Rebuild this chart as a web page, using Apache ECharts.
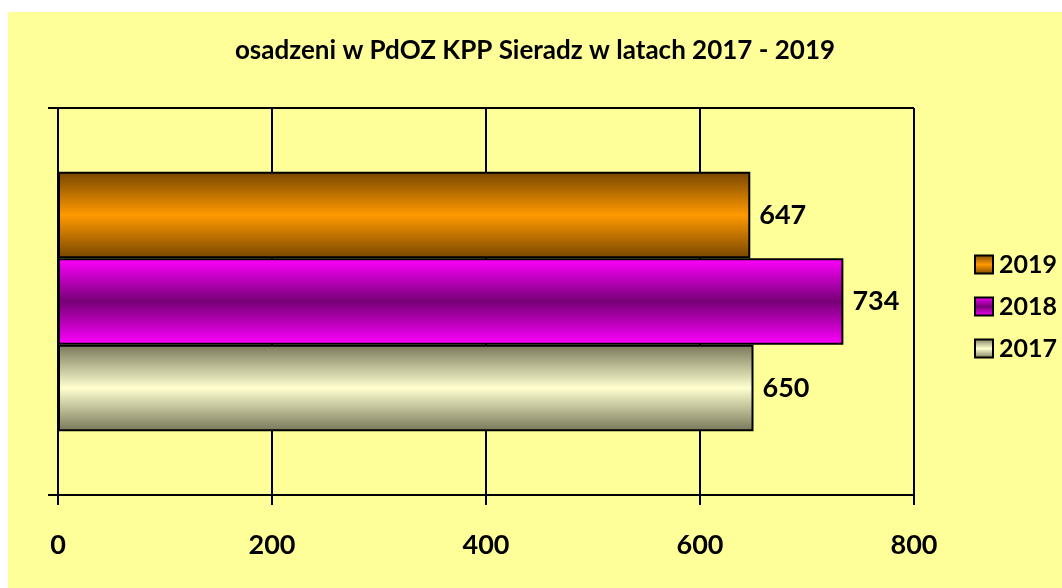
<!DOCTYPE html>
<html>
<head>
<meta charset="utf-8">
<script src="https://cdn.jsdelivr.net/npm/echarts@6/dist/echarts.min.js"></script>
<style>
  html, body { margin: 0; padding: 0; background: #fff; }
  #main { position: absolute; left: 8px; top: 12px; width: 1054px; height: 576px; }
</style>
</head>
<body>
<div id="main"></div>
<script>
// dane
var titleText = 'osadzeni w PdOZ KPP Sieradz w latach 2017 - 2019'
var years = ['2019', '2018', '2017']
var values = [647, 734, 650]
var categories = ['']
var xMin = 0
var xMax = 800
var xStep = 200

// kolory: [krawedz, srodek]
var shades = {
  '2019': ['#774600', '#FF9900'],
  '2018': ['#FF00FF', '#770077'],
  '2017': ['#77775A', '#FFFFD0']
}

function grad (c) {
  return new echarts.graphic.LinearGradient(0, 0, 0, 1, [
    { offset: 0, color: c[0] },
    { offset: 0.5, color: c[1] },
    { offset: 1, color: c[0] }
  ])
}

var font = 'Lato, "DejaVu Sans", sans-serif'

var series = years.map(function (y, i) {
  return {
    name: y,
    type: 'bar',
    barGap: '0%',
    barCategoryGap: '33%',
    data: [values[i]],
    itemStyle: {
      color: grad(shades[y]),
      borderColor: '#000',
      borderWidth: 2
    },
    label: {
      show: true,
      position: 'right',
      distance: 9,
      color: '#000',
      fontFamily: font,
      fontWeight: 'bold',
      fontSize: 27
    }
  }
})

var chart = echarts.init(document.getElementById('main'))
chart.setOption({
  backgroundColor: '#FFFF99',
  animation: false,
  title: {
    text: titleText,
    left: 'center',
    top: 21,
    textStyle: {
      fontFamily: font,
      fontWeight: 'bold',
      fontSize: 26,
      color: '#000'
    }
  },
  legend: {
    data: years,
    orient: 'vertical',
    left: 961,
    top: 235,
    itemWidth: 18,
    itemHeight: 18,
    itemGap: 17,
    icon: 'rect',
    itemStyle: { borderColor: '#000', borderWidth: 2 },
    textStyle: {
      fontFamily: font,
      fontWeight: 'bold',
      fontSize: 25,
      color: '#000',
      padding: [0, 0, 0, 1]
    }
  },
  grid: {
    left: 50,
    top: 96,
    width: 856,
    height: 387,
    containLabel: false
  },
  xAxis: {
    type: 'value',
    min: xMin,
    max: xMax,
    interval: xStep,
    axisLine: { show: true, lineStyle: { color: '#000', width: 2 } },
    axisTick: { show: true, length: 10, lineStyle: { color: '#000', width: 2 } },
    splitLine: { show: true, lineStyle: { color: '#000', width: 2 } },
    axisLabel: {
      margin: 37,
      color: '#000',
      fontFamily: font,
      fontWeight: 'bold',
      fontSize: 27
    }
  },
  yAxis: {
    type: 'category',
    data: categories,
    axisLine: { show: true, lineStyle: { color: '#000', width: 2 } },
    axisTick: { show: true, length: 10, lineStyle: { color: '#000', width: 2 } },
    splitLine: { show: true, lineStyle: { color: '#000', width: 2 } },
    axisLabel: { show: false }
  },
  series: series
})
</script>
</body>
</html>
